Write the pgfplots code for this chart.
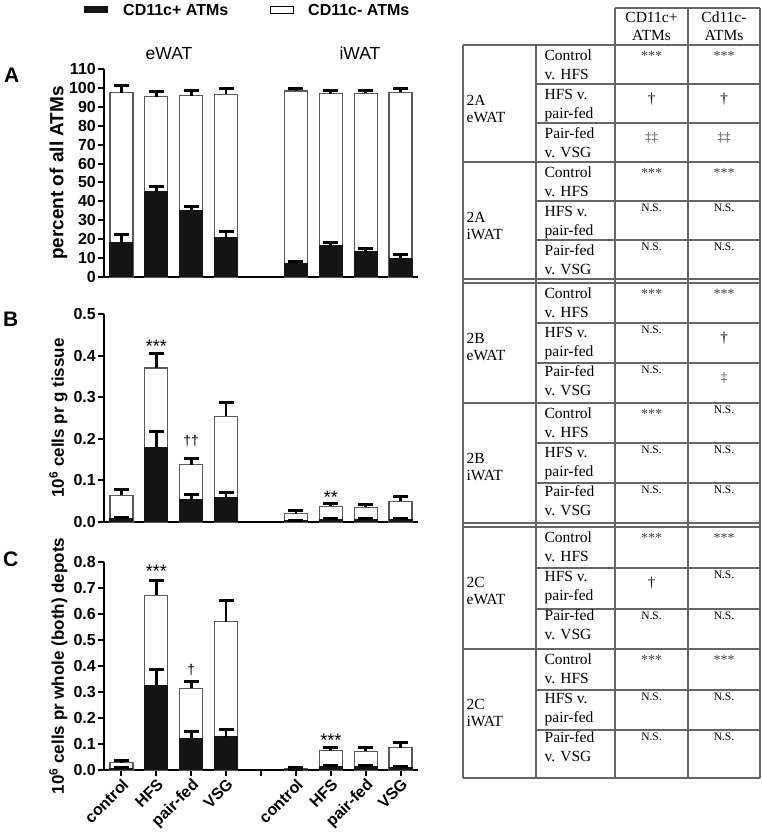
\documentclass[border=0pt]{standalone}
\usepackage{fontspec}
\setmainfont{Liberation Sans}
\newfontfamily\tabfont{Liberation Serif}
\usepackage{pgfplots}
\usepackage{pgfplotstable}
\pgfplotsset{compat=1.18}

\pgfplotstableread{
x tot toterr pos poserr
0 97.5 4.0 18.5 3.8
1 95.3 3.0 45.0 3.0
2 95.8 2.6 35.0 2.4
3 96.6 3.2 21.0 3.0
5 98.4 1.2 7.0 1.2
6 96.9 1.7 16.5 1.5
7 97.2 1.5 13.3 1.7
8 97.7 1.9 10.0 1.8
}\dataA
\pgfplotstableread{
x tot toterr pos poserr
0 0.064 0.013 0.009 0.003
1 0.370 0.036 0.180 0.038
2 0.138 0.014 0.054 0.012
3 0.254 0.034 0.058 0.012
5 0.020 0.007 0.003 0.001
6 0.038 0.006 0.007 0.002
7 0.035 0.007 0.006 0.002
8 0.050 0.011 0.006 0.002
}\dataB
\pgfplotstableread{
x tot toterr pos poserr
0 0.028 0.010 0.006 0.002
1 0.672 0.058 0.326 0.062
2 0.314 0.028 0.123 0.024
3 0.570 0.082 0.128 0.028
5 0.005 0.003 0.002 0.001
6 0.074 0.012 0.013 0.005
7 0.072 0.014 0.012 0.004
8 0.086 0.021 0.009 0.004
}\dataC

\pgfplotsset{
  panel/.style={
    scale only axis, width=314pt, height=208pt, anchor=south west,
    xmin=-0.5, xmax=8.5, ymin=0,
    axis lines*=left, axis line style={line width=2pt, black},
    tick align=outside, major tick length=6pt,
    every tick/.style={line width=2pt, black},
    xtick=\empty,
    /pgf/number format/assume math mode=true,
    yticklabel style={font=\fontsize{16}{18}\selectfont\bfseries, inner sep=2pt},
    ylabel style={font=\fontsize{17}{20}\selectfont\bfseries, at={(axis description cs:-0.145,0.5)}, anchor=center},
    clip=false, ybar, bar width=23pt,
  },
  whitebar/.style={fill=white, draw=black!65, line width=1.2pt, bar shift=0pt,
    error bars/.cd, y dir=plus, y explicit,
    error bar style={line width=2.6pt, black, solid},
    error mark options={rotate=90, line width=3pt, mark size=7.5pt, black}},
  blackbar/.style={fill=black!92, draw=black!92, line width=1pt, bar shift=0pt,
    error bars/.cd, y dir=plus, y explicit,
    error bar style={line width=2.6pt, black, solid},
    error mark options={rotate=90, line width=3pt, mark size=7.5pt, black}},
}
\tikzset{
  sig/.style={anchor=base, inner sep=0pt, font=\fontsize{18}{20}\selectfont},
  dag/.style={anchor=base, inner sep=0pt, font=\fontsize{14}{16}\selectfont},
}

\newcommand\cellrow[3]{% y_top, line1, line2
  \node[anchor=base west, inner sep=0pt] at (544,#1+15.7) {#2};
  \node[anchor=base west, inner sep=0pt] at (544,#1+34.3) {#3};}
\newcommand\tast[2]{\node[anchor=base, inner sep=0pt, text=black!75, font=\tabfont\fontsize{14}{16}\selectfont] at (#1,#2+16) {***};}
\newcommand\tns[2]{\node[anchor=base, inner sep=0pt, font=\tabfont\fontsize{11.5}{13}\selectfont] at (#1,#2+10.5) {N.S.};}
\newcommand\tdg[2]{\node[anchor=base, inner sep=0pt, font=\tabfont\fontsize{15}{16}\selectfont] at (#1,#2+20) {†};}
\newcommand\tddg[3]{\node[anchor=base, inner sep=0pt, text=black!75, font=\tabfont\fontsize{13}{14}\selectfont] at (#1,#2+19) {#3};}

\begin{document}
\begin{tikzpicture}
\begin{scope}[x=1pt, y=-1pt, shift={(0pt,833pt)}]
\path[use as bounding box] (0,0) rectangle (761,833);
% legend
\fill[black!92] (84,6) rectangle (108,13.5);
\node[anchor=base west, inner sep=0pt, font=\fontsize{16}{18}\selectfont\bfseries] at (123,15.5) {CD11c+ ATMs};
\draw[black, line width=1pt] (270,6.5) rectangle (293,13.5);
\node[anchor=base west, inner sep=0pt, font=\fontsize{16}{18}\selectfont\bfseries] at (308,15.5) {CD11c- ATMs};
% titles
\node[anchor=base, inner sep=0pt, font=\fontsize{17.5}{20}\selectfont] at (169,60) {eWAT};
\node[anchor=base, inner sep=0pt, font=\fontsize{17.5}{20}\selectfont] at (360,60) {iWAT};
% panel letters
\node[anchor=base west, inner sep=0pt, font=\fontsize{21}{24}\selectfont\bfseries] at (4,83) {A};
\node[anchor=base west, inner sep=0pt, font=\fontsize{21}{24}\selectfont\bfseries] at (3,327) {B};
\node[anchor=base west, inner sep=0pt, font=\fontsize{21}{24}\selectfont\bfseries] at (3,567) {C};

% table
\begin{scope}[draw=black!60, line width=1.3pt, font=\tabfont\fontsize{15.5}{18}\selectfont]
\draw (615,8) -- (760,8);
\draw (615,8) -- (615,778) (688,8) -- (688,778) (760,8) -- (760,778);
\draw (463,45) -- (463,778) (536,45) -- (536,778);
\foreach \y in {45,162,279,283,403,523,527,649,778} {\draw (463,\y) -- (760,\y);}
\foreach \y in {84,123,201,240,323,363,443,483,568,609,690,730} {\draw (536,\y) -- (760,\y);}
\node[anchor=base, inner sep=0pt] at (651.5,23) {CD11c+};
\node[anchor=base, inner sep=0pt] at (651.5,41) {ATMs};
\node[anchor=base, inner sep=0pt] at (724,23) {Cd11c-};
\node[anchor=base, inner sep=0pt] at (724,41) {ATMs};
% group labels
\foreach \t/\a/\b in {45/2A/eWAT,162/2A/iWAT,283/2B/eWAT,403/2B/iWAT,527/2C/eWAT,649/2C/iWAT}{
  \node[anchor=base west, inner sep=0pt] at (466,\t+61) {\a};
  \node[anchor=base west, inner sep=0pt] at (466,\t+78) {\b};}
\foreach \t in {45,162,283,403,527,649}{
  \cellrow{\t}{Control}{v. HFS}
  \cellrow{\t+39}{HFS v.}{pair-fed}
  \cellrow{\t+78}{Pair-fed}{v. VSG}}
% 2A eWAT
\tast{651.5}{45}\tast{724}{45}
\tdg{651.5}{84}\tdg{724}{84}
\tddg{651.5}{123}{‡‡}\tddg{724}{123}{‡‡}
% 2A iWAT
\tast{651.5}{162}\tast{724}{162}
\tns{651.5}{201}\tns{724}{201}
\tns{651.5}{240}\tns{724}{240}
% 2B eWAT
\tast{651.5}{283}\tast{724}{283}
\tns{651.5}{323}\tdg{724}{323}
\tns{651.5}{363}\tddg{724}{363}{‡}
% 2B iWAT
\tast{651.5}{403}\tns{724}{403}
\tns{651.5}{443}\tns{724}{443}
\tns{651.5}{483}\tns{724}{483}
% 2C eWAT
\tast{651.5}{527}\tast{724}{527}
\tdg{651.5}{568}\tns{724}{568}
\tns{651.5}{609}\tns{724}{609}
% 2C iWAT
\tast{651.5}{649}\tast{724}{649}
\tns{651.5}{690}\tns{724}{690}
\tns{651.5}{730}\tns{724}{730}
\end{scope}
\end{scope}

% Panel A
\begin{axis}[panel, at={(104pt,556pt)}, ymax=110, ytick={0,10,...,110},
  ylabel={\fontsize{19}{22}\selectfont percent of all ATMs}]
\addplot[whitebar] table[x=x, y=tot, y error=toterr]{\dataA};
\addplot[blackbar] table[x=x, y=pos, y error=poserr]{\dataA};
\end{axis}

% Panel B
\begin{axis}[panel, at={(104pt,311pt)}, ymax=0.5, ytick={0,0.1,...,0.5},
  yticklabel={\pgfmathprintnumber[fixed,fixed zerofill,precision=1]{\tick}},
  ylabel={10\textsuperscript{6} cells pr g tissue}]
\addplot[whitebar] table[x=x, y=tot, y error=toterr]{\dataB};
\addplot[blackbar] table[x=x, y=pos, y error=poserr]{\dataB};
\node[sig] at (axis cs:1,0.408) {***};
\node[dag] at (axis cs:2,0.183) {††};
\node[sig] at (axis cs:6,0.045) {**};
\end{axis}

% Panel C
\begin{axis}[panel, at={(104pt,63pt)}, ymax=0.8, ytick={0,0.1,...,0.8},
  yticklabel={\pgfmathprintnumber[fixed,fixed zerofill,precision=1]{\tick}},
  xtick={0,...,8}, xticklabels={control,HFS,pair-fed,VSG,{},control,HFS,pair-fed,VSG},
  xticklabel style={font=\fontsize{16}{18}\selectfont\bfseries, rotate=45, anchor=north east, inner sep=1pt},
  ylabel={10\textsuperscript{6} cells pr whole (both) depots}]
\addplot[whitebar] table[x=x, y=tot, y error=toterr]{\dataC};
\addplot[blackbar] table[x=x, y=pos, y error=poserr]{\dataC};
\node[sig] at (axis cs:1,0.741) {***};
\node[dag] at (axis cs:2,0.369) {†};
\node[sig] at (axis cs:6,0.089) {***};
\end{axis}
\end{tikzpicture}
\end{document}
